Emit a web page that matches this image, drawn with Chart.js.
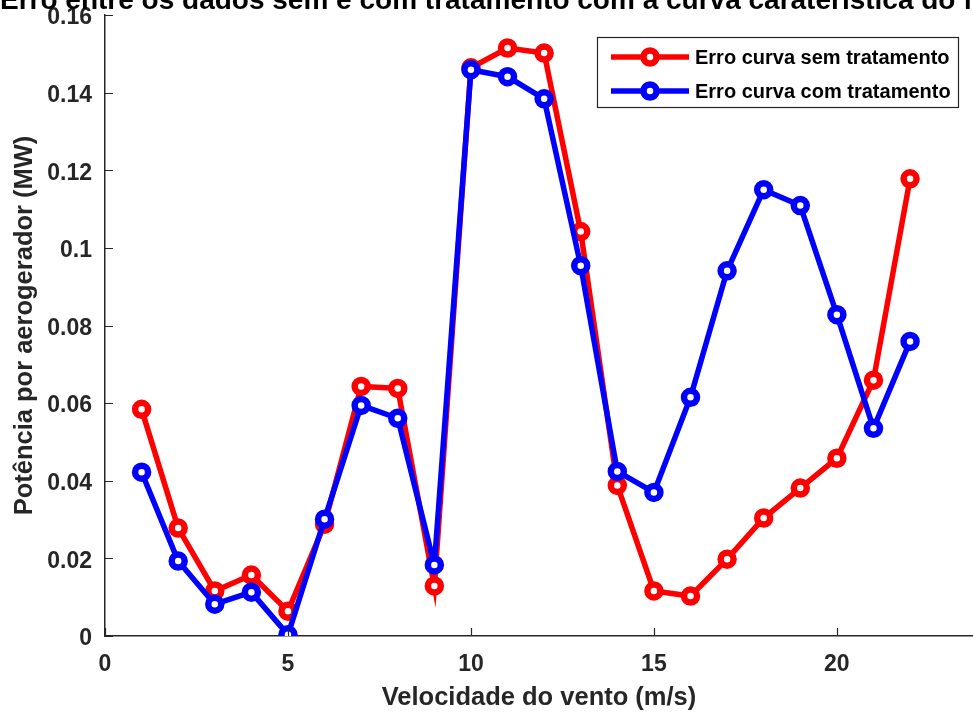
<!DOCTYPE html>
<html>
<head>
<meta charset="utf-8">
<script src="https://cdn.jsdelivr.net/npm/chart.js@4.4.1/dist/chart.umd.min.js"></script>
<style>
  html, body { margin: 0; padding: 0; background: #fff; }
  #box { position: relative; width: 973px; height: 716px; }
</style>
</head>
<body>
<div id="box"><canvas id="myChart"></canvas></div>
<script>
const speeds = [1, 2, 3, 4, 5, 6, 7, 8, 9, 10, 11, 12, 13, 14, 15, 16, 17, 18, 19, 20, 21, 22];

const semTratamento = [
    0.0584, 0.0278, 0.0116, 0.0157, 0.0064, 0.0288, 0.0643, 0.0638, 0.0129, 0.1464, 0.1515,
    0.1502, 0.1042, 0.0388, 0.0116, 0.0103, 0.0198, 0.0304, 0.0381, 0.0458, 0.0659, 0.1178,
];

const comTratamento = [
    0.0422, 0.0193, 0.0082, 0.0113, 0.0003, 0.0301, 0.0594, 0.0561, 0.0183, 0.1459, 0.1441,
    0.1384, 0.0954, 0.0424, 0.0370, 0.0615, 0.0941, 0.1150, 0.1109, 0.0828, 0.0535, 0.0759,
];

const xTicks = [0, 5, 10, 15, 20];
const yTicks = [0, 0.02, 0.04, 0.06, 0.08, 0.1, 0.12, 0.14, 0.16];
const yTickLabels = ['0', '0.02', '0.04', '0.06', '0.08', '0.1', '0.12', '0.14', '0.16'];

const chartTitle = 'Erro entre os dados sem e com tratamento com a curva caraterística do fabricante';

const axisColor = '#262626';
const fontFamily = "'Liberation Sans', Arial, sans-serif";

const toPoints = (ys) => speeds.map((x, i) => ({ x: x, y: ys[i] }));

// title runs off the top of the figure (clipped), so draw it without squeezing
const cutTitle = {
    id: 'cutTitle',
    afterDraw(chart) {
        const ctx = chart.ctx;
        ctx.save();
        ctx.font = "bold 28px " + fontFamily;
        ctx.fillStyle = '#000';
        ctx.textAlign = 'left';
        ctx.textBaseline = 'alphabetic';
        ctx.fillText(chartTitle, 0, 9);
        ctx.restore();
    }
};

// inward tick marks, like the matlab figure
const innerTicks = {
    id: 'innerTicks',
    afterDraw(chart) {
        const ctx = chart.ctx;
        const area = chart.chartArea;
        const sx = chart.scales.x;
        const sy = chart.scales.y;
        ctx.save();
        ctx.strokeStyle = axisColor;
        ctx.lineWidth = 1.2;
        ctx.beginPath();
        xTicks.forEach(v => {
            const px = Math.round(sx.getPixelForValue(v)) + 0.5;
            ctx.moveTo(px, area.bottom);
            ctx.lineTo(px, area.bottom - 8);
        });
        yTicks.forEach(v => {
            const py = Math.round(sy.getPixelForValue(v)) + 0.5;
            ctx.moveTo(area.left, py);
            ctx.lineTo(area.left + 8, py);
        });
        ctx.stroke();
        ctx.restore();
    }
};

// boxed legend in the upper right corner
const boxLegend = {
    id: 'boxLegend',
    afterDraw(chart) {
        const ctx = chart.ctx;
        const area = chart.chartArea;
        const left = 597, top = area.top + 22, w = 361, h = 70, rowH = 34;
        ctx.save();
        ctx.fillStyle = '#fff';
        ctx.fillRect(left, top, w, h);
        ctx.strokeStyle = axisColor;
        ctx.lineWidth = 1.2;
        ctx.strokeRect(left + 0.5, top + 0.5, w, h);
        ctx.font = "bold 20px " + fontFamily;
        ctx.textBaseline = 'middle';
        chart.data.datasets.forEach((ds, i) => {
            const cy = top + 20 + i * rowH;
            ctx.strokeStyle = ds.borderColor;
            ctx.lineWidth = 5.5;
            ctx.beginPath();
            ctx.moveTo(left + 14, cy);
            ctx.lineTo(left + 92, cy);
            ctx.stroke();
            ctx.fillStyle = '#fff';
            ctx.lineWidth = 6.5;
            ctx.beginPath();
            ctx.arc(left + 53, cy, 6.5, 0, Math.PI * 2);
            ctx.fill();
            ctx.stroke();
            ctx.fillStyle = '#000';
            ctx.fillText(ds.label, left + 98, cy + 1);
        });
        ctx.restore();
    }
};

const data = {
    datasets: [{
        label: 'Erro curva sem tratamento',
        data: toPoints(semTratamento),
        borderColor: '#ff0000',
        backgroundColor: '#ffffff',
        borderWidth: 5.5,
        borderJoinStyle: 'miter',
        pointRadius: 6.5,
        pointBorderWidth: 6.5,
        pointBackgroundColor: '#ffffff',
        pointBorderColor: '#ff0000',
        order: 2,
    },
    {
        label: 'Erro curva com tratamento',
        data: toPoints(comTratamento),
        borderColor: '#0000ff',
        backgroundColor: '#ffffff',
        borderWidth: 5.5,
        borderJoinStyle: 'round',
        pointRadius: 6.5,
        pointBorderWidth: 6.5,
        pointBackgroundColor: '#ffffff',
        pointBorderColor: '#0000ff',
        order: 1,
    }],
};

const config = {
    type: 'line',
    data: data,
    plugins: [innerTicks, boxLegend, cutTitle],
    options: {
        responsive: true,
        maintainAspectRatio: false,
        animation: false,
        layout: { autoPadding: false, padding: { top: 15, left: 0, right: 0, bottom: 0 } },
        plugins: {
            legend: { display: false },
            tooltip: { enabled: false },
            title: { display: false },
        },
        scales: {
            x: {
                type: 'linear',
                min: 0,
                max: 23.72,
                afterBuildTicks: (scale) => { scale.ticks = xTicks.map(v => ({ value: v })); },
                afterFit: (scale) => {
                    scale.height = 80;
                    scale.paddingLeft = 0;
                    scale.paddingRight = 0;
                },
                grid: { display: true, drawOnChartArea: false, drawTicks: false },
                border: { display: true, color: axisColor, width: 1.5 },
                ticks: {
                    color: axisColor,
                    padding: 15,
                    maxRotation: 0,
                    font: { family: fontFamily, size: 23, weight: 'bold' },
                },
                title: {
                    display: true,
                    text: 'Velocidade do vento (m/s)',
                    color: axisColor,
                    font: { family: fontFamily, size: 25.5, weight: 'bold' },
                    padding: { top: 0, bottom: 3 },
                },
            },
            y: {
                type: 'linear',
                min: 0,
                max: 0.16,
                afterBuildTicks: (scale) => { scale.ticks = yTicks.map(v => ({ value: v })); },
                afterFit: (scale) => {
                    scale.width = 105;
                    scale.paddingTop = 0;
                    scale.paddingBottom = 0;
                },
                grid: { display: true, drawOnChartArea: false, drawTicks: false },
                border: { display: true, color: axisColor, width: 1.5 },
                ticks: {
                    color: axisColor,
                    padding: 13,
                    labelOffset: 3,
                    font: { family: fontFamily, size: 23, weight: 'bold' },
                    callback: (value, index) => yTickLabels[index],
                },
                title: {
                    display: true,
                    text: 'Potência por aerogerador (MW)',
                    color: axisColor,
                    font: { family: fontFamily, size: 25.5, weight: 'bold' },
                    padding: { top: 10, bottom: 0 },
                },
            },
        },
    },
};

const myChart = new Chart(
    document.getElementById('myChart'),
    config
);
</script>
</body>
</html>
